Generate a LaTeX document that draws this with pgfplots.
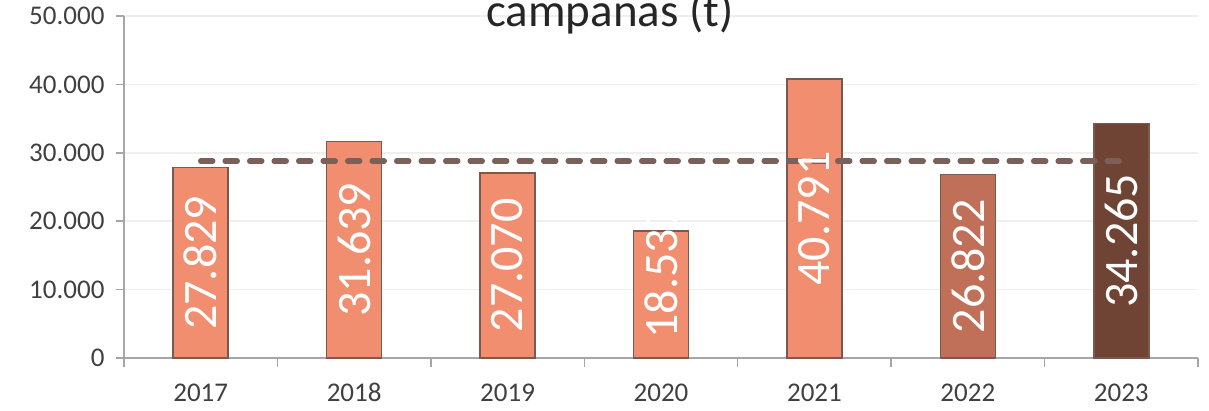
\documentclass[border=0pt]{standalone}
\usepackage{fontspec}
\setmainfont{Carlito}
\usepackage{pgfplots}
\pgfplotsset{compat=1.18}
\usepackage{pgfplotstable}

\definecolor{barmain}{HTML}{F28E70}
\definecolor{bar22}{HTML}{C07058}
\definecolor{bar23}{HTML}{704434}
\definecolor{baredge}{HTML}{7A5A50}
\definecolor{avgline}{HTML}{7A6058}
\definecolor{axisgrey}{HTML}{A6A6A6}
\definecolor{gridgrey}{HTML}{EFEFEF}
\definecolor{txt}{HTML}{404040}

% label positions (ly) along each bar
\pgfplotstableread{
x v ly lab
0 27829 13914 27.829
1 31639 15820 31.639
2 27070 13535 27.070
3 18537 12650 18.537
4 40791 20396 40.791
5 26822 13411 26.822
6 34265 17133 34.265
}\data

\begin{document}
\begin{tikzpicture}
\begin{axis}[
  scale only axis,
  width=1074pt, height=342pt,
  xmin=-0.5, xmax=6.5,
  ymin=0, ymax=50000,
  scaled y ticks=false,
  axis lines*=left,
  axis line style={axisgrey, line width=1.5pt},
  tick style={axisgrey, line width=1.5pt},
  tick align=outside,
  xtick={0,...,6},
  xticklabels={2017,2018,2019,2020,2021,2022,2023},
  major x tick style={draw=none},
  minor xtick={-0.5,0.5,...,6.5},
  minor tick length=9pt,
  ytick={0,10000,...,50000},
  yticklabels={0,10.000,20.000,30.000,40.000,50.000},
  major tick length=8pt,
  ymajorgrids,
  grid style={gridgrey, line width=1.5pt},
  tick label style={font=\fontsize{27}{27}\selectfont, text=txt},
  xticklabel style={yshift=-14pt},
  yticklabel style={xshift=-8pt},
  clip=false,
]
  \addplot[ybar, bar width=55pt, fill=barmain, draw=baredge, line width=1.5pt]
    coordinates {(0,27829) (1,31639) (2,27070) (3,18537) (4,40791)};
  \addplot[ybar, bar width=55pt, fill=bar22, draw=baredge, line width=1.5pt]
    coordinates {(5,26822)};
  \addplot[ybar, bar width=55pt, fill=bar23, draw=baredge, line width=1.5pt]
    coordinates {(6,34265)};
  % average line
  \addplot[avgline, line width=5.5pt, line cap=round, dash pattern=on 12pt off 12.5pt]
    coordinates {(0,28781) (6,28781)};
  % value labels
  \addplot[only marks, mark=none, point meta=explicit symbolic,
    nodes near coords={\pgfplotspointmeta},
    nodes near coords align={center},
    every node near coord/.style={rotate=90, text=white, inner sep=0pt,
      font=\fontsize{48}{48}\selectfont}]
    table[x=x, y=ly, meta=lab] {\data};
\end{axis}
\node[anchor=base, text=black!85, font=\fontsize{47}{47}\selectfont] at (486pt,331pt) {campanas (t)};
\pgfresetboundingbox
\path[use as bounding box] (-124pt,-53pt) rectangle (1085pt,358pt);
\end{tikzpicture}
\end{document}
